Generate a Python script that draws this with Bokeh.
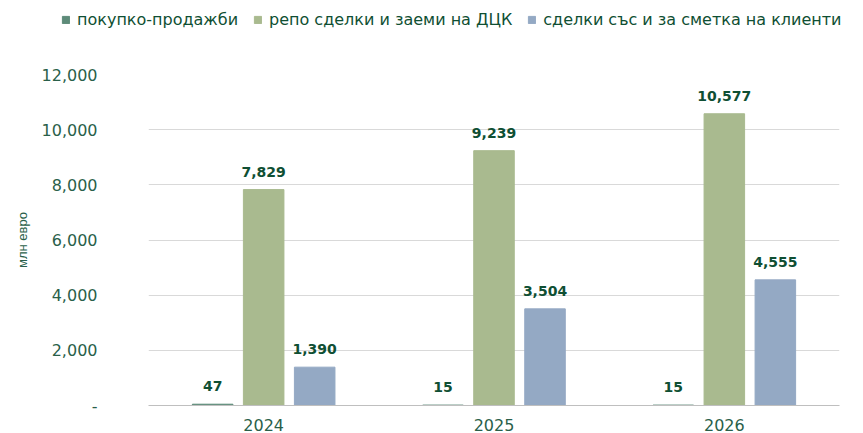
from bokeh.plotting import figure
from bokeh.models import (FactorRange, ColumnDataSource, FixedTicker, NumeralTickFormatter,
                          Legend, LegendItem, Range1d)
from bokeh.transform import dodge
from bokeh.core.properties import value
from bokeh.embed import file_html
from bokeh.resources import INLINE

categories = ["2024", "2025", "2026"]
series_names = ["покупко-продажби", "репо сделки и заеми на ДЦК", "сделки със и за сметка на клиенти"]
buy_sell = [47, 15, 15]
repo = [7829, 9239, 10577]
clients = [1390, 3504, 4555]
y_ticks = [0, 2000, 4000, 6000, 8000, 10000, 12000]
y_label = "млн евро"

colors = ["#5d8b79", "#a9ba8f", "#94a9c4"]
text_col = "#0f4f33"
tick_col = "#2a5f4a"
FONT = "DejaVu Sans"

src = ColumnDataSource(dict(
    x=categories, s1=buy_sell, s2=repo, s3=clients,
    l1=[f"{v:,}" for v in buy_sell],
    l2=[f"{v:,}" for v in repo],
    l3=[f"{v:,}" for v in clients],
))

W, H = 863, 433
HEAD_H = 50
off = 0.2215
w = 0.176

# ---- legend header (same bars, kept outside its visible range, only used for the legend) ----
head = figure(width=W, height=HEAD_H, x_range=FactorRange(*categories, range_padding=0),
              y_range=Range1d(20000, 30000), x_axis_type=None, y_axis_type=None,
              output_backend="svg", toolbar_location=None, min_border=0)
head.grid.visible = False
head.outline_line_color = None
h_rs = [head.vbar(x=dodge("x", o, range=head.x_range), top=s, width=w, source=src, color=c)
        for o, s, c in zip([-off, 0, off], ["s1", "s2", "s3"], colors)]
legend = Legend(items=[LegendItem(label=n, renderers=[r]) for n, r in zip(series_names, h_rs)],
                orientation="horizontal", location=(61, 21),
                padding=0, margin=0, spacing=15, label_standoff=7,
                glyph_width=9, glyph_height=9, label_height=18,
                label_text_font=FONT, label_text_font_size="16px",
                label_text_color=text_col,
                background_fill_alpha=0, border_line_color=None)
head.add_layout(legend, "center")

# ---- main chart ----
p = figure(x_range=FactorRange(*categories, range_padding=0), y_range=Range1d(0, 12000),
           width=W, height=H - HEAD_H, output_backend="svg", toolbar_location=None,
           min_border_left=148, min_border_right=24, min_border_top=74 - HEAD_H, min_border_bottom=27)
p.outline_line_color = None
p.background_fill_color = "white"

p.vbar(x=dodge("x", -off, range=p.x_range), top="s1", width=w, source=src, color=colors[0])
p.vbar(x=dodge("x", 0, range=p.x_range), top="s2", width=w, source=src, color=colors[1])
p.vbar(x=dodge("x", off, range=p.x_range), top="s3", width=w, source=src, color=colors[2])

for col, lab, o in [("s1", "l1", -off), ("s2", "l2", 0), ("s3", "l3", off)]:
    p.text(x=dodge("x", o, range=p.x_range), y=col, text=lab, source=src,
           text_align="center", text_baseline="middle", y_offset=-18,
           text_font=value(FONT), text_font_size="14px", text_font_style="bold",
           text_color=text_col)

p.xgrid.grid_line_color = None
p.ygrid.grid_line_color = "#d9d9d9"
p.ygrid.ticker = FixedTicker(ticks=y_ticks)

p.yaxis.ticker = FixedTicker(ticks=y_ticks)
p.yaxis.formatter = NumeralTickFormatter(format="0,0")
p.yaxis.major_label_overrides = {0: "-"}
p.yaxis.axis_line_color = None
p.yaxis.major_tick_line_color = None
p.yaxis.minor_tick_line_color = None
p.yaxis.major_label_standoff = 45
p.yaxis.major_label_text_font = FONT
p.yaxis.major_label_text_font_size = "16px"
p.yaxis.major_label_text_color = tick_col
p.yaxis.axis_label = y_label
p.yaxis.axis_label_text_font = "Liberation Sans"
p.yaxis.axis_label_text_font_size = "13px"
p.yaxis.axis_label_text_font_style = "normal"
p.yaxis.axis_label_text_color = tick_col
p.yaxis.axis_label_standoff = 9

p.xaxis.axis_line_color = "#bfbfbf"
p.xaxis.major_tick_line_color = None
p.xaxis.minor_tick_line_color = None
p.xaxis.major_label_standoff = 7
p.xaxis.major_label_text_font = FONT
p.xaxis.major_label_text_font_size = "16px"
p.xaxis.major_label_text_color = tick_col

open("out.html", "w").write(file_html([head, p], INLINE))
